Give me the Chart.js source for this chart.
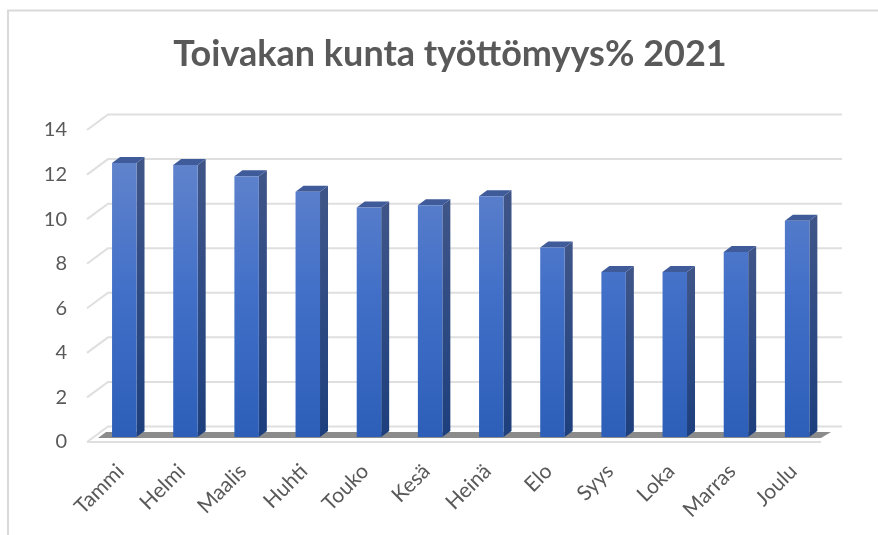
<!DOCTYPE html>
<html><head><meta charset="utf-8">
<style>html,body{margin:0;padding:0;background:#fff}canvas{display:block}</style>
<script src="https://cdn.jsdelivr.net/npm/chart.js@4"></script></head>
<body><canvas id="c" width="878" height="535"></canvas>
<script>
const categories=["Tammi","Helmi","Maalis","Huhti","Touko","Kesä","Heinä","Elo","Syys","Loka","Marras","Joulu"];
const unemployment=[12.3,12.2,11.7,11.0,10.3,10.4,10.8,8.5,7.4,7.4,8.3,9.7];
const yTicks=[0,2,4,6,8,10,12,14];
const titleText="Toivakan kunta työttömyys% 2021";
const GRID="#d9d9d9", TEXT="#595959";
const wallDx=21, wallDy=-15.5, barDx=6.7, barDy=-5, sideDx=8, sideDy=-6;

const frame={id:'frame',beforeDraw(ch){
  const c=ch.ctx;c.save();c.fillStyle='#fff';c.fillRect(0,0,878,535);
  c.strokeStyle=GRID;c.lineWidth=2;c.beginPath();c.moveTo(8,535);c.lineTo(8,10.5);c.lineTo(878,10.5);c.stroke();
  const y=ch.scales.y,a=ch.chartArea;
  c.lineWidth=2;c.strokeStyle='#dfdfdf';
  yTicks.forEach(v=>{const p=y.getPixelForValue(v);
    c.beginPath();c.moveTo(a.left,p);c.lineTo(a.left+wallDx,p+wallDy);c.lineTo(a.right+wallDx,p+wallDy);c.stroke();});
  const p0=y.getPixelForValue(0);
  c.beginPath();c.moveTo(a.left,p0);c.lineTo(a.right,p0);c.stroke();
  const g=c.createLinearGradient(a.left,0,a.left+61.2,0);
  g.addColorStop(0,'rgba(130,130,130,0.55)');g.addColorStop(.5,'rgba(60,60,60,0.85)');g.addColorStop(1,'rgba(130,130,130,0.55)');
  c.fillStyle='rgba(100,100,100,0.75)';
  c.beginPath();c.moveTo(a.left+11,p0-4);c.lineTo(a.left+19,p0-10);c.lineTo(a.right+10,p0-10);c.lineTo(a.right,p0-4);c.closePath();c.fill();
  c.restore();
}};
const depth={id:'depth',
  beforeDatasetsDraw(ch){
    const c=ch.ctx;c.save();c.translate(barDx,barDy);
    ch.getDatasetMeta(0).data.forEach(b=>{
      const l=b.x-b.width/2,r=b.x+b.width/2,t=b.y,bt=b.base;
      const g=c.createLinearGradient(0,t,0,bt);g.addColorStop(0,'#3f5588');g.addColorStop(1,'#1d3f7d');
      c.fillStyle=g;c.beginPath();c.moveTo(r,t);c.lineTo(r+sideDx,t+sideDy);c.lineTo(r+sideDx,bt+sideDy);c.lineTo(r,bt);c.closePath();c.fill();
      c.fillStyle='#3f5b9a';c.beginPath();c.moveTo(l,t);c.lineTo(l+sideDx,t+sideDy);c.lineTo(r+sideDx,t+sideDy);c.lineTo(r,t);c.closePath();c.fill();
    });
  },
  afterDatasetsDraw(ch){ch.ctx.restore();}
};
new Chart(document.getElementById('c'),{
  type:'bar',
  data:{labels:categories,datasets:[{data:unemployment,yAxisID:'y',barPercentage:1,categoryPercentage:0.4,
    backgroundColor(ctx){const a=ctx.chart.chartArea;if(!a)return '#3f6fc4';
      const g=ctx.chart.ctx.createLinearGradient(0,a.top+30,0,a.bottom);g.addColorStop(0,'#6284cc');g.addColorStop(.5,'#416fc8');g.addColorStop(1,'#2d5fb8');return g;}}]},
  plugins:[frame,depth],
  options:{responsive:false,animation:false,
    layout:{padding:{top:0,right:0,bottom:0,left:22}},
    plugins:{legend:{display:false},tooltip:{enabled:false},
      title:{display:true,text:titleText,color:TEXT,font:{family:'Lato',size:36,weight:'bold'},padding:{top:33,bottom:53.8}}},
    scales:{
      x:{grid:{display:false},border:{display:false},afterFit(s){s.height=93;},
        ticks:{color:TEXT,font:{family:'Lato',size:21},maxRotation:45,minRotation:45,padding:9,labelOffset:3,autoSkip:false}},
      y:{min:0,max:14,grid:{display:false},border:{display:false},
        afterFit(s){s.width=65;},
        afterBuildTicks(s){s.ticks=yTicks.map(v=>({value:v}));},
        ticks:{color:TEXT,font:{family:'Lato',size:20},padding:12}},
      r:{position:'right',display:true,min:0,max:14,grid:{display:false},border:{display:false},
        ticks:{display:false},afterFit(s){s.width=57;}}
    }}
});
</script></body></html>
